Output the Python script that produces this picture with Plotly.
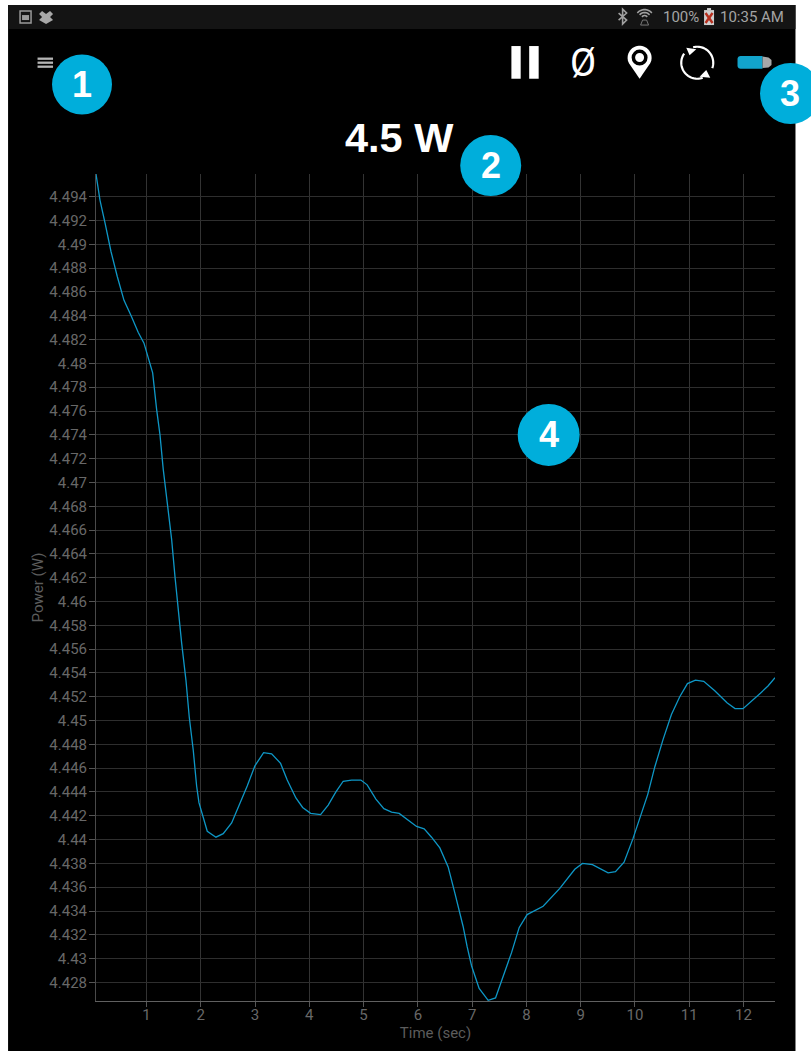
import numpy as np
import plotly.graph_objects as go

# ---- data ----
time_sec = [0.07,0.144,0.236,0.346,0.462,0.586,0.727,0.849,0.954,1.046,1.114,1.188,1.249,1.309,1.390,1.464,1.525,1.567,1.648,1.727,1.788,1.862,1.924,1.967,2.046,2.120,2.280,2.414,2.569,2.722,2.856,2.998,3.158,3.306,3.471,3.593,3.753,3.877,4.024,4.208,4.348,4.490,4.624,4.779,4.950,5.066,5.227,5.374,5.516,5.656,5.821,5.976,6.116,6.252,6.405,6.558,6.682,6.834,6.908,6.989,7.129,7.295,7.431,7.560,7.726,7.866,8.013,8.308,8.615,8.891,9.033,9.217,9.505,9.641,9.799,9.965,10.101,10.236,10.365,10.517,10.672,10.825,10.967,11.114,11.267,11.470,11.696,11.843,11.991,12.145,12.311,12.451,12.580]
power_w = [4.4959,4.4937,4.4918,4.4894,4.4873,4.4853,4.4839,4.4826,4.4817,4.4803,4.4792,4.4761,4.4740,4.4711,4.4680,4.4652,4.4621,4.4601,4.4565,4.4534,4.4503,4.4475,4.4445,4.4431,4.4419,4.4407,4.4402,4.4405,4.4414,4.4430,4.4445,4.4462,4.4473,4.4472,4.4464,4.4450,4.4435,4.4427,4.4422,4.4421,4.4429,4.4440,4.4449,4.4450,4.4450,4.4446,4.4434,4.4426,4.4423,4.4422,4.4416,4.4411,4.4409,4.4402,4.4393,4.4377,4.4355,4.4327,4.4310,4.4294,4.4275,4.4265,4.4267,4.4284,4.4305,4.4326,4.4337,4.4344,4.4359,4.4375,4.4380,4.4379,4.4372,4.4373,4.4381,4.4401,4.4419,4.4438,4.4461,4.4484,4.4505,4.4520,4.4531,4.4534,4.4533,4.4525,4.4515,4.4510,4.4510,4.4516,4.4523,4.4529,4.4536]
x_ticks = [1,2,3,4,5,6,7,8,9,10,11,12]
y_ticks = [4.428,4.43,4.432,4.434,4.436,4.438,4.44,4.442,4.444,4.446,4.448,4.45,4.452,4.454,4.456,4.458,4.46,4.462,4.464,4.466,4.468,4.47,4.472,4.474,4.476,4.478,4.48,4.482,4.484,4.486,4.488,4.49,4.492,4.494]
y_tick_labels = ["4.428","4.43","4.432","4.434","4.436","4.438","4.44","4.442","4.444","4.446","4.448","4.45","4.452","4.454","4.456","4.458","4.46","4.462","4.464","4.466","4.468","4.47","4.472","4.474","4.476","4.478","4.48","4.482","4.484","4.486","4.488","4.49","4.492","4.494"]
x_range = [0.07, 12.58]
y_range = [4.42644, 4.49591]
title_text = "4.5 W"

W, H = 811, 1051
L, R, T, B = 96.0, 775.5, 174.0, 1001.3
BLUE = "#00AEDB"
fx = lambda p: (p - L) / (R - L)
fy = lambda p: (B - p) / (B - T)

shapes, notes = [], []

def rect(x0, y0, x1, y1, color, layer="above"):
    shapes.append(dict(type="rect", xref="paper", yref="paper", x0=fx(x0), x1=fx(x1),
                       y0=fy(y0), y1=fy(y1), fillcolor=color, line_width=0, layer=layer))

def circle(cx, cy, r, color):
    shapes.append(dict(type="circle", xref="paper", yref="paper", x0=fx(cx-r), x1=fx(cx+r),
                       y0=fy(cy-r), y1=fy(cy+r), fillcolor=color, line_width=0, layer="above"))

def poly(pts, fill=None, stroke=None, width=1, close=True):
    d = "M" + " L".join(f"{fx(a):.5f},{fy(b):.5f}" for a, b in pts) + (" Z" if close else "")
    shapes.append(dict(type="path", xref="paper", yref="paper", path=d,
                       fillcolor=fill if fill else "rgba(0,0,0,0)",
                       line=dict(color=stroke if stroke else "rgba(0,0,0,0)", width=width), layer="above"))

def text(s, x, y, size, color="#ffffff", bold=False, family="Liberation Sans", anchor="center"):
    notes.append(dict(text=f"<b>{s}</b>" if bold else s, xref="paper", yref="paper", x=fx(x), y=fy(y),
                      xanchor=anchor, yanchor="middle", showarrow=False,
                      font=dict(size=size, color=color, family=family)))

def arc(cx, cy, r, a0, a1, n=30):
    a = np.radians(np.linspace(a0, a1, n))
    return [(cx + r*np.cos(t), cy - r*np.sin(t)) for t in a]

# app frame
rect(8, 5, 796, 1060, "#000000", layer="below")
rect(8, 5, 796, 29, "#141414", layer="below")

# status bar, left icons
poly([(20,11),(31,11),(31,23),(20,23)], stroke="#9a9a9a", width=1.5)
rect(22, 15, 29, 20, "#9a9a9a")
poly([(42,11),(46,14),(50,11),(53,14),(50,17),(53,20),(46,24),(39,20),(42,17),(39,14)], fill="#a8a8a8")
# status bar, right
poly([(619,13),(627,20),(623,24),(623,9),(627,13),(619,20)], stroke="#a0a0a0", width=1.6, close=False)
for r_ in (3.5, 6.5, 9.5):
    poly(arc(645, 19, r_, 40, 140, 10), stroke="#a0a0a0", width=1.6, close=False)
poly([(643,20),(647,20),(649,25),(641,25)], stroke="#777777", width=1)
text("100%", 681, 17, 15, "#a4a4a4", family="Roboto")
rect(704.5, 10, 714.5, 25, "#cfcfcf")
rect(707.5, 8, 711.5, 10, "#cfcfcf")
poly([(706,13),(713,23)], stroke="#b8301f", width=2.4, close=False)
poly([(713,13),(706,23)], stroke="#b8301f", width=2.4, close=False)
text("10:35 AM", 752, 17, 15, "#a4a4a4", family="Roboto")

# hamburger
for y_ in (57.5, 61.5, 65.5):
    rect(37.5, y_, 53, y_ + 2.3, "#b5b5b5")

# toolbar icons
rect(511.7, 46, 521, 78.7, "#ffffff")
rect(529.5, 46, 539, 78.7, "#ffffff")
text("Ø", 583, 62.5, 38, family="Roboto")
# pin
poly(arc(640, 57.7, 12, -28, 208, 30) + [(640, 78.7)], fill="#ffffff")
circle(640, 57.5, 8, "#000000")
circle(640, 57.5, 4.5, "#ffffff")
# refresh
poly(arc(697.7, 62.7, 16, 105, -20), stroke="#ffffff", width=2.2, close=False)
poly(arc(697.7, 62.7, 16, 290, 145), stroke="#ffffff", width=2.2, close=False)
poly([(686.7,47.7),(696.7,49.3),(690,55.3)], fill="#ffffff")
poly([(710.7,77.7),(700,76.7),(706.7,70)], fill="#ffffff")
# battery
poly(arc(741, 59, 3, 180, 90, 6) + [(763, 56), (763, 68.7)] + arc(741, 65.7, 3, 270, 180, 6), fill="#12A4CC")
poly([(763,56.5),(769,57.5),(772,60),(772,65),(769,67.5),(763,68)], fill="#a8a8a8")

# numbered badges
for n, cx, cy, r_ in [("1", 82, 84.5, 30), ("2", 491, 165.5, 30.5), ("3", 791, 93.5, 30.5), ("4", 549, 435, 31)]:
    circle(cx, cy, r_, BLUE)
    text(n, cx, cy, 36, bold=True)

text(title_text, 400, 137, 41.5, bold=True)

fig = go.Figure(go.Scatter(x=time_sec, y=power_w, mode="lines",
                           line=dict(color="#0E97C6", width=1.3), hoverinfo="skip"))
axis_font = dict(family="Roboto", size=15, color="#686868")
fig.update_layout(
    width=W, height=H, showlegend=False,
    paper_bgcolor="#ffffff", plot_bgcolor="rgba(0,0,0,0)",
    margin=dict(l=L, r=W-R, t=T, b=H-B, pad=0, autoexpand=False),
    shapes=shapes, annotations=notes,
    xaxis=dict(range=x_range, tickmode="array", tickvals=x_ticks, ticktext=[str(v) for v in x_ticks],
               ticks="outside", ticklen=5, tickcolor="#555555", tickwidth=1, ticklabelstandoff=-5,
               showgrid=True, gridcolor="#333333", gridwidth=1, zeroline=False,
               showline=True, linecolor="#606060", linewidth=1, tickfont=axis_font,
               title=dict(text="Time (sec)", font=dict(family="Roboto", size=15, color="#5c5c5c"), standoff=2)),
    yaxis=dict(range=y_range, tickmode="array", tickvals=y_ticks, ticktext=y_tick_labels,
               ticks="outside", ticklen=6, tickcolor="#555555", tickwidth=1, ticklabelstandoff=-1,
               showgrid=True, gridcolor="#2e2e2e", gridwidth=1, zeroline=False,
               showline=True, linecolor="#4a4a4a", linewidth=1, tickfont=axis_font,
               title=dict(text="Power (W)", font=dict(family="Roboto", size=15, color="#5c5c5c"), standoff=2)),
)
fig.write_html("out.html", config=dict(displayModeBar=False),
               post_script="document.body.style.margin='0';document.body.style.background='#fff';document.documentElement.style.overflow='hidden';")
